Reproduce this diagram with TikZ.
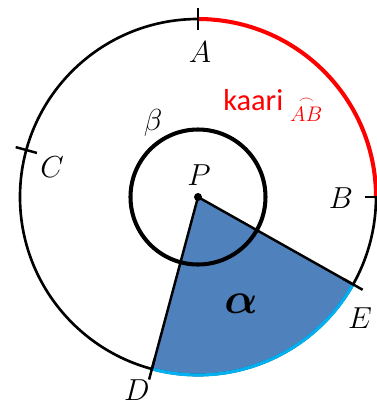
\documentclass[tikz,border=0pt]{standalone}
\usepackage{amsmath,bm}
\usepackage{fontspec}
\newfontfamily\kaarifont{Carlito}
\definecolor{sektori}{RGB}{79,129,189}
\definecolor{syaani}{RGB}{0,176,240}
\definecolor{punainen}{RGB}{255,0,0}

\begin{document}
\begin{tikzpicture}[
    ympyra/.style={draw=black,line width=1.5pt},
    sade/.style={draw=black,line width=1.4pt},
    merkki/.style={draw=black,line width=1.4pt},
    nimi/.style={font=\LARGE,inner sep=0pt},
  ]
    \useasboundingbox (-3.96,-4.16) rectangle (3.58,3.94);

    % Points
    \coordinate (P) at (0,0);
    \coordinate (A) at (90:3.56);
    \coordinate (B) at (0:3.56);
    \coordinate (D) at (255:3.56);
    \coordinate (E) at (-29.4:3.56);

    % Sector
    \fill[sektori] (P) -- (D) arc[start angle=255,end angle=330.6,radius=3.56] -- cycle;

    % Circles and arcs
    \draw[ympyra] (P) circle[radius=3.56];
    \draw[punainen,line width=2.3pt] (A) arc[start angle=90,end angle=0,radius=3.56];
    \draw[syaani,line width=1.8pt] (D) arc[start angle=255,end angle=330.6,radius=3.56];
    \draw[black,line width=2.3pt] (P) circle[radius=1.35];

    % Radii
    \draw[sade] (P) -- (D);
    \draw[sade] (P) -- (E);

    % Ticks
    \foreach \a in {90,0,164.7,255,-29.4}
      \draw[merkki] (\a:3.34) -- (\a:3.78);

    \fill (P) circle[radius=0.08];

    % Labels
    \node[nimi] (lblA) at (0.04,2.9) {$A$};
    \node[nimi] (lblB) at (2.86,-0.02) {$B$};
    \node[nimi] (lblC) at (-2.92,0.6) {$C$};
    \node[nimi] (lblD) at (-1.22,-3.86) {$D$};
    \node[nimi] (lblE) at (3.24,-2.42) {$E$};
    \node[nimi] (lblP) at (0.02,0.44) {$P$};
    \node[nimi] (lblbeta) at (-0.9,1.48) {$\beta$};
    \node[font=\Huge,inner sep=0pt] (lblalpha) at (0.86,-2.14) {$\bm{\alpha}$};
    \node[anchor=base west,inner sep=0pt,text=punainen] (lblkaari) at (0.5,1.74)
      {\LARGE\kaarifont kaari \raisebox{-6.8pt}{\large$\overset{\frown}{AB}$}};

  \end{tikzpicture}
\end{document}
